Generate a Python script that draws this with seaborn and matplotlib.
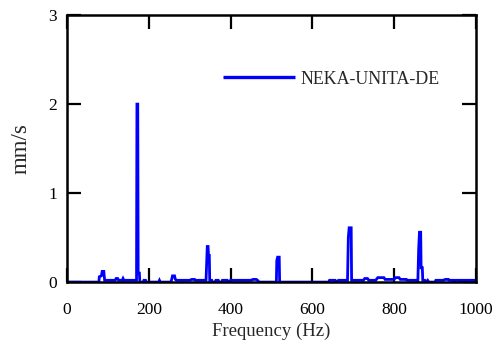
import matplotlib
matplotlib.use("Agg")
import matplotlib.pyplot as plt
import seaborn as sns
import pandas as pd

freq = [0, 78, 79, 84, 86, 90, 92, 100, 118, 120, 124, 126, 135, 137, 139, 150, 165, 170,
        171, 173, 174, 177, 178, 186, 188, 192, 193, 224, 226, 228, 254, 256, 258, 263, 265,
        268, 300, 305, 312, 314, 340, 343, 345, 346, 348, 349, 354, 356, 362, 364, 370, 372,
        378, 380, 392, 394, 398, 400, 450, 455, 463, 466, 470, 512, 513, 515, 519, 520, 640,
        642, 656, 658, 662, 664, 676, 686, 688, 690, 695, 696, 702, 725, 728, 735, 738, 755,
        760, 775, 778, 800, 803, 812, 815, 830, 832, 855, 858, 860, 862, 865, 866, 869, 870,
        875, 878, 882, 885, 900, 902, 920, 925, 933, 935, 945, 947, 950, 960, 962, 965, 1000]
amp = [0, 0, 0.06, 0.07, 0.12, 0.12, 0.02, 0.02, 0.02, 0.04, 0.04, 0.02, 0.02, 0.04, 0.02, 0.02, 0.02, 0.02,
       2.0, 2.0, 0.10, 0.10, 0, 0, 0.02, 0.02, 0, 0, 0.02, 0, 0, 0.03, 0.07, 0.07, 0.03,
       0.02, 0.02, 0.03, 0.03, 0.02, 0.02, 0.40, 0.40, 0.30, 0.30, 0.02, 0.02, 0, 0, 0.02, 0.02, 0,
       0, 0.02, 0.02, 0, 0, 0.02, 0.02, 0.03, 0.03, 0.02, 0, 0, 0.24, 0.28, 0.28, 0, 0,
       0.02, 0.02, 0, 0, 0.02, 0.02, 0.02, 0.50, 0.61, 0.61, 0.02, 0.02, 0.02, 0.04, 0.04, 0.02, 0.02,
       0.05, 0.05, 0.03, 0.03, 0.05, 0.05, 0.03, 0.03, 0.02, 0.02, 0, 0.37, 0.56, 0.56, 0.16, 0.16, 0.02,
       0.02, 0, 0.02, 0, 0, 0.02, 0.02, 0.03, 0.03, 0.02, 0.02, 0, 0.02, 0.02, 0, 0.02, 0.02]

x_ticks = [0, 200, 400, 600, 800, 1000]
y_ticks = [0, 1, 2, 3]
series_name = "NEKA-UNITA-DE"

sns.set_style("ticks")
plt.rcParams['font.family'] = ['Liberation Serif', 'DejaVu Serif']

df = pd.DataFrame({"Frequency (Hz)": freq, "mm/s": amp, "series": series_name})

fig = plt.figure(figsize=(5.02, 3.44), dpi=100)
ax = fig.add_axes([0.1335, 0.180, 0.8145, 0.776])
sns.lineplot(data=df, x="Frequency (Hz)", y="mm/s", hue="series", palette=["#0000ff"],
             estimator=None, sort=False, linewidth=2.0, ax=ax)
for ln in ax.get_lines():
    ln.set_solid_joinstyle("miter")
    ln.set_solid_capstyle("butt")

ax.set_xlim(0, 1000)
ax.set_ylim(0, 3)
ax.set_xticks(x_ticks)
ax.set_yticks(y_ticks)
ax.tick_params(direction="in", length=10, width=1.6, top=True, right=True,
               labelsize=12.5, colors="black")
ax.tick_params(axis="x", pad=14)
ax.tick_params(axis="y", pad=7)
for s in ax.spines.values():
    s.set_linewidth(1.8)
    s.set_color("black")
ax.set_xlabel("Frequency (Hz)", fontsize=13.5, labelpad=4)
ax.set_ylabel("mm/s", fontsize=16.5, labelpad=12)

leg = ax.legend(loc="center left", bbox_to_anchor=(0.382, 0.760), frameon=False,
                fontsize=12.9, handlelength=4.0, handletextpad=0.3, borderaxespad=0,
                borderpad=0)
for line in leg.get_lines():
    line.set_linewidth(2.4)

fig.savefig("out.png", dpi=100)
